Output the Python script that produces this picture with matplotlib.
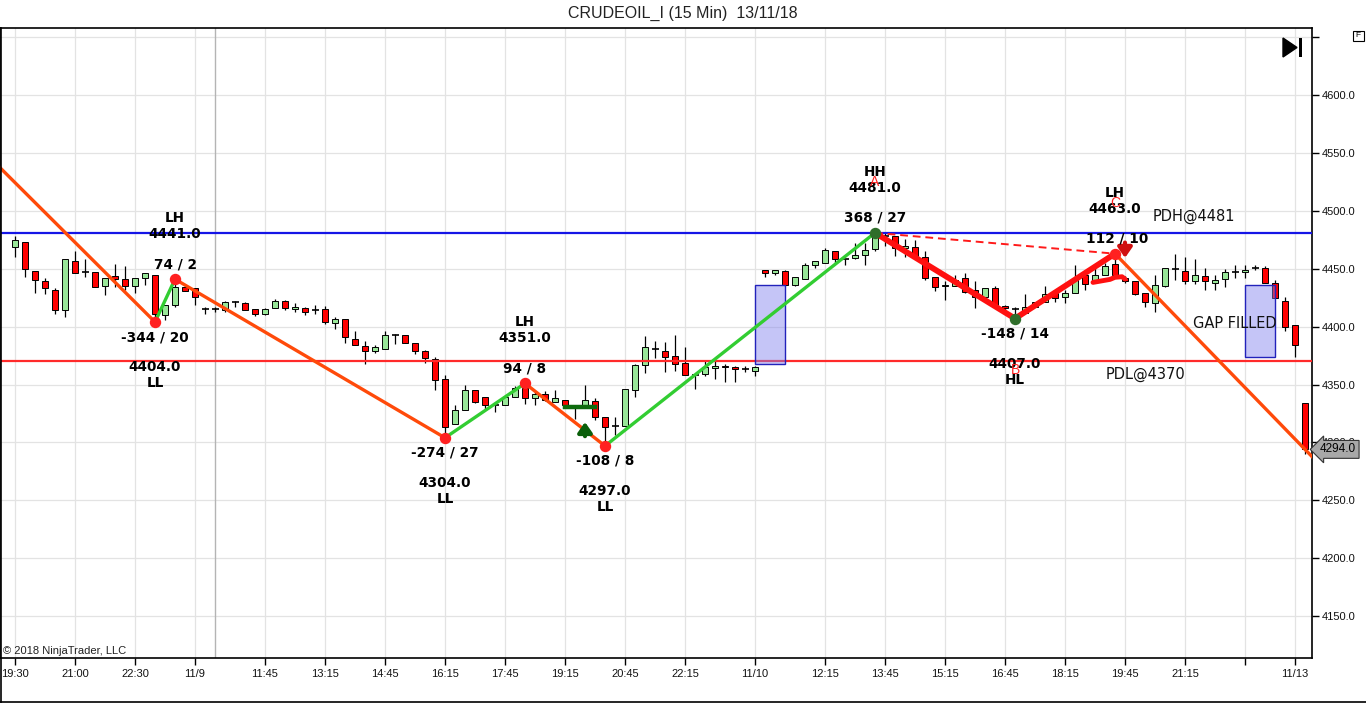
import matplotlib
matplotlib.use('Agg')
import matplotlib.pyplot as plt
import numpy as np
from matplotlib.patches import Rectangle, Polygon
import matplotlib.transforms as mtransforms

# ---------------- data ----------------
title = "CRUDEOIL_I (15 Min)  13/11/18"

opens = [4469, 4473, 4448, 4439, 4432, 4414, 4457, 4447, 4447, 4435,
         4444, 4441, 4435, 4442, 4445, 4410, 4419, 4434, 4433, 4415,
         4415, 4414, 4421, 4420, 4415, 4411, 4416, 4422, 4415, 4416,
         4414, 4415, 4403, 4407, 4389, 4383, 4379, 4381, 4393, 4393,
         4386, 4379, 4372, 4355, 4316, 4328, 4345, 4339, 4332, 4332,
         4339, 4347, 4338, 4342, 4335, 4337, 4331, 4330, 4336, 4322,
         4314, 4314, 4345, 4367, 4381, 4379, 4375, 4369, 4358, 4359,
         4364, 4366, 4365, 4363, 4362, 4449, 4446, 4448, 4436, 4441,
         4453, 4455, 4465, 4458, 4459, 4462, 4467, 4478, 4478, 4468,
         4469, 4460, 4443, 4435, 4435, 4442, 4432, 4426, 4433, 4418,
         4415, 4412, 4417, 4421, 4429, 4426, 4429, 4445, 4439, 4445,
         4454, 4442, 4439, 4429, 4420, 4435, 4450, 4448, 4439, 4444,
         4438, 4441, 4447, 4447, 4451, 4451, 4438, 4422, 4401, 4334]
highs = [4478, 4473, 4448, 4442, 4433, 4458, 4465, 4458, 4447, 4442,
         4454, 4452, 4442, 4446, 4445, 4419, 4441, 4437, 4433, 4417,
         4417, 4422, 4422, 4421, 4415, 4416, 4424, 4423, 4420, 4417,
         4419, 4418, 4408, 4407, 4396, 4388, 4384, 4396, 4394, 4393,
         4386, 4380, 4374, 4358, 4332, 4350, 4345, 4339, 4332, 4339,
         4349, 4351, 4344, 4344, 4345, 4337, 4331, 4350, 4338, 4322,
         4322, 4346, 4368, 4392, 4388, 4387, 4393, 4382, 4358, 4370,
         4370, 4368, 4366, 4366, 4366, 4449, 4449, 4449, 4443, 4455,
         4457, 4468, 4465, 4458, 4472, 4472, 4481, 4481, 4478, 4476,
         4475, 4465, 4443, 4439, 4445, 4446, 4439, 4433, 4435, 4419,
         4417, 4428, 4421, 4435, 4430, 4432, 4453, 4445, 4452, 4455,
         4463, 4444, 4439, 4429, 4445, 4451, 4463, 4460, 4458, 4451,
         4445, 4450, 4453, 4453, 4453, 4452, 4440, 4426, 4401, 4334]
lows = [4460, 4443, 4429, 4428, 4411, 4408, 4446, 4443, 4434, 4427,
        4434, 4432, 4429, 4436, 4404, 4406, 4417, 4431, 4419, 4411,
        4413, 4413, 4417, 4414, 4409, 4410, 4416, 4414, 4413, 4410,
        4411, 4402, 4398, 4386, 4384, 4368, 4377, 4381, 4385, 4386,
        4376, 4369, 4345, 4304, 4316, 4328, 4334, 4329, 4326, 4332,
        4339, 4333, 4332, 4336, 4335, 4331, 4320, 4330, 4319, 4297,
        4306, 4314, 4339, 4360, 4373, 4361, 4362, 4358, 4346, 4357,
        4355, 4352, 4352, 4361, 4357, 4443, 4445, 4435, 4435, 4441,
        4451, 4455, 4454, 4453, 4458, 4453, 4465, 4470, 4461, 4460,
        4459, 4440, 4431, 4423, 4435, 4429, 4416, 4426, 4416, 4412,
        4407, 4412, 4417, 4421, 4421, 4420, 4429, 4432, 4438, 4445,
        4444, 4438, 4427, 4417, 4413, 4434, 4440, 4437, 4437, 4432,
        4432, 4434, 4442, 4442, 4449, 4438, 4425, 4396, 4374, 4290]
closes = [4475, 4450, 4440, 4433, 4414, 4458, 4446, 4447, 4434, 4442,
          4441, 4435, 4442, 4446, 4411, 4419, 4434, 4431, 4426, 4415,
          4415, 4421, 4421, 4414, 4411, 4415, 4422, 4416, 4417, 4413,
          4414, 4404, 4407, 4391, 4384, 4379, 4382, 4393, 4393, 4386,
          4379, 4373, 4354, 4313, 4328, 4345, 4335, 4332, 4332, 4339,
          4347, 4338, 4342, 4337, 4338, 4332, 4331, 4337, 4322, 4313,
          4314, 4346, 4367, 4382, 4381, 4374, 4368, 4358, 4358, 4365,
          4366, 4365, 4363, 4363, 4365, 4446, 4449, 4436, 4443, 4453,
          4457, 4466, 4458, 4458, 4462, 4466, 4478, 4478, 4468, 4470,
          4459, 4442, 4434, 4436, 4440, 4430, 4426, 4433, 4417, 4416,
          4415, 4417, 4421, 4428, 4425, 4429, 4441, 4437, 4445, 4452,
          4445, 4439, 4428, 4421, 4436, 4451, 4450, 4439, 4445, 4439,
          4440, 4447, 4447, 4449, 4451, 4438, 4425, 4400, 4384, 4294]

tick_idx = [0, 6, 12, 18, 25, 31, 37, 43, 49, 55, 61, 67, 74, 81, 87, 93,
            99, 105, 111, 117, 123, 128]
tick_lbl = ['19:30', '21:00', '22:30', '11/9', '11:45', '13:15', '14:45',
            '16:15', '17:45', '19:15', '20:45', '22:15', '11/10', '12:15',
            '13:45', '15:15', '16:45', '18:15', '19:45', '21:15', '', '11/13']
session_break = [20]

y_ticks = [4150, 4200, 4250, 4300, 4350, 4400, 4450, 4500, 4550, 4600, 4650]

# zigzag swing points
swing_idx = [-6, 14, 16, 43, 51, 59, 86, 100, 110, 129]
swing_px = [4576, 4404, 4441, 4304, 4351, 4297, 4481, 4407, 4463, 4294]
swing_type = ['', 'LL', 'LH', 'LL', 'LH', 'LL', 'HH', 'HL', 'LH', '']
swing_move = ['', '-344 / 20', '74 / 2', '-274 / 27', '94 / 8', '-108 / 8',
              '368 / 27', '-148 / 14', '112 / 10', '']
swing_dot = ['', 'red', 'red', 'red', 'red', 'red', 'green', 'green', 'red', '']

# ABC pattern
abc_idx = [86, 100, 110]
abc_px = [4481, 4407, 4463]
abc_lbl = ['A', 'B', 'C']

# levels and gaps
pdh = 4481
pdl = 4370
gap_x0 = [74, 123]
gap_x1 = [77, 126]
gap_lo = [4368, 4374]
gap_hi = [4436, 4436]

# small drawings
green_hline_x = [55, 58]
green_hline_y = 4330.5
green_arrow_x = 57
green_arrow_y = [4303, 4320]
red_arrow_x = 111
red_arrow_y = [4475, 4457]
red_curve_x = [107.8, 109.5, 110.0, 110.7, 111.0]
red_curve_y = [4438.2, 4440.8, 4442.6, 4443.1, 4441.1]

last_price = 4294

# ---------------- figure ----------------
W, H = 1366, 703
fig = plt.figure(figsize=(W / 100, H / 100), dpi=100)
fig.patch.set_facecolor('white')
ax_l, ax_r, ax_t, ax_b = 0, 1312, 28, 657.7
ax = fig.add_axes([ax_l / W, 1 - ax_b / H, (ax_r - ax_l) / W, (ax_b - ax_t) / H])
ax.set_xlim(-1.5, 129.7)
ax.set_ylim(4114.1, 4657.9)

TF = 'Liberation Sans'
LF = 'DejaVu Sans'

# grid
for yv in y_ticks:
    ax.axhline(yv, color='#e3e3e3', lw=0.9, zorder=0)
for xv in tick_idx:
    ax.axvline(xv, color='#e3e3e3', lw=0.9, zorder=0)
for xv in session_break:
    ax.axvline(xv, color='#b4b4b4', lw=1.0, zorder=0)

# candles
x = np.arange(len(opens))
o = np.array(opens, float)
h = np.array(highs, float)
l = np.array(lows, float)
c = np.array(closes, float)
ax.vlines(x, l, h, color='black', lw=0.9, zorder=2)
up = c > o
dn = c < o
dj = c == o
ax.bar(x[up], (c - o)[up], bottom=o[up], width=0.62, color='#98e698',
       edgecolor='black', linewidth=0.7, zorder=3)
ax.bar(x[dn], (o - c)[dn], bottom=c[dn], width=0.62, color='#ff0000',
       edgecolor='black', linewidth=0.7, zorder=3)
ax.hlines(c[dj], x[dj] - 0.35, x[dj] + 0.35, color='black', lw=1.2, zorder=3)

# levels
ax.axhline(pdh, color='#1515e6', lw=1.6, zorder=4)
ax.axhline(pdl, color='#ff2a2a', lw=1.6, zorder=4)

# gap boxes
for x0, x1, lo, hi in zip(gap_x0, gap_x1, gap_lo, gap_hi):
    ax.add_patch(Rectangle((x0, lo), x1 - x0, hi - lo, facecolor='#8080ee',
                           alpha=0.45, edgecolor='none', zorder=5))
    ax.add_patch(Rectangle((x0, lo), x1 - x0, hi - lo, facecolor='none',
                           edgecolor='#2222bb', lw=1.0, zorder=5))

# zigzag
xlim_r = ax.get_xlim()[1]
for k in range(len(swing_idx) - 1):
    xa, xb = swing_idx[k], swing_idx[k + 1]
    ya, yb = swing_px[k], swing_px[k + 1]
    if k == len(swing_idx) - 2:
        slope = (yb - ya) / (xb - xa)
        xb2 = xlim_r + 1
        yb = ya + slope * (xb2 - xa)
        xb = xb2
    col = '#32cd32' if yb > ya else '#ff4a0a'
    ax.plot([xa, xb], [ya, yb], color=col, lw=2.4, zorder=6,
            solid_capstyle='round')

# ABC overlay
ax.plot([abc_idx[0], abc_idx[2]], [abc_px[0], abc_px[2]], color='#ff1a1a',
        lw=1.4, ls=(0, (4, 2.5)), zorder=6)
ax.plot(abc_idx, abc_px, color='#ff1010', lw=4.2, zorder=7,
        solid_joinstyle='round', solid_capstyle='round')
ax.plot(red_curve_x, red_curve_y, color='#ff1010', lw=3.5, zorder=7,
        solid_capstyle='round')

# dots
for i, p, d in zip(swing_idx, swing_px, swing_dot):
    if d:
        ax.plot(i, p, 'o', ms=7.2, zorder=8,
                color='#ff2020' if d == 'red' else '#2f6e2a',
                markeredgecolor='#ff2020' if d == 'red' else '#2f6e2a')

# small drawings
ax.plot(green_hline_x, [green_hline_y, green_hline_y], color='#0e6b0e',
        lw=3.2, zorder=7)
ax.annotate('', xy=(green_arrow_x, green_arrow_y[1]),
            xytext=(green_arrow_x, green_arrow_y[0]),
            arrowprops=dict(arrowstyle='-|>,head_width=0.35,head_length=0.5',
                            color='#0a5f0a', lw=3, mutation_scale=12),
            zorder=8)
ax.annotate('', xy=(red_arrow_x, red_arrow_y[1]),
            xytext=(red_arrow_x, red_arrow_y[0]),
            arrowprops=dict(arrowstyle='-|>,head_width=0.35,head_length=0.5',
                            color='#d01010', lw=3, mutation_scale=12),
            zorder=8)

# swing labels
for i, p, t, mv in zip(swing_idx, swing_px, swing_type, swing_move):
    if not t:
        continue
    s = 1 if t.endswith('H') else -1
    kw = dict(textcoords='offset pixels', ha='center', va='center',
              fontsize=9.8, fontweight='bold', family=LF, color='black',
              zorder=9)
    ax.annotate(t, xy=(i, p), xytext=(0, 61 * s), **kw)
    ax.annotate(f'{p:.1f}', xy=(i, p), xytext=(0, 45 * s), **kw)
    ax.annotate(mv, xy=(i, p), xytext=(2 if i == 110 else 0, 15 * s), **kw)

for i, p, t in zip(abc_idx, abc_px, abc_lbl):
    s = -1 if t == 'B' else 1
    ax.annotate(t, xy=(i, p), xytext=(0, 51 * s), textcoords='offset pixels',
                ha='center', va='center', fontsize=10, family=TF,
                color='#ff2020', zorder=10)

ax.annotate(f'PDH@{pdh}', xy=(117.9, pdh), xytext=(0, 16),
            textcoords='offset pixels', ha='center', va='center',
            fontsize=10.5, family=LF, color='#111111', zorder=9)
ax.annotate(f'PDL@{pdl}', xy=(113.05, pdl), xytext=(0, -13),
            textcoords='offset pixels', ha='center', va='center',
            fontsize=10.5, family=LF, color='#111111', zorder=9)
ax.text(122.0, 4403, 'GAP FILLED', ha='center', va='center',
        fontsize=10.5, family=LF, color='#111111', zorder=9)

ax.text(3 / (ax_r - ax_l), 6.5 / (ax_b - ax_t), '© 2018 NinjaTrader, LLC',
        transform=ax.transAxes, ha='left', va='center', fontsize=8,
        family=TF, color='#222222', zorder=9)

# axes styling
for sp in ax.spines.values():
    sp.set_color('black')
    sp.set_linewidth(1.2)
ax.yaxis.tick_right()
ax.set_yticks(y_ticks)
ax.set_yticklabels([f'{v:.1f}' if v <= 4600 else '' for v in y_ticks],
                   family=TF, fontsize=8)
ax.set_xticks(tick_idx)
ax.set_xticklabels(tick_lbl, family=TF, fontsize=8)
ax.tick_params(axis='both', direction='out', length=5, width=1,
               color='black', labelcolor='#111111', pad=3)
ax.tick_params(axis='y', pad=2)

# last price tag
trans = mtransforms.blended_transform_factory(ax.transAxes, ax.transData)
ax.annotate(f'{last_price:.1f}', xy=(1.0, last_price), xycoords=trans,
            xytext=(8, 0), textcoords='offset pixels', ha='left', va='center',
            fontsize=8.5, family=TF, color='black', annotation_clip=False,
            bbox=dict(boxstyle='larrow,pad=0.25', fc='#a8a8a8', ec='#333333',
                      lw=0.8), zorder=20)

# title
fig.text(0.5, 1 - 13 / H, title, ha='center', va='center', fontsize=11.5,
         family=TF, color='#222222')

# frame decorations
fig.add_artist(plt.Line2D([0.5 / W, 0.5 / W], [1 - 28 / H, 1 - 702 / H],
                          color='black', lw=1.2, transform=fig.transFigure))
fig.add_artist(plt.Line2D([0, 1], [1 - 701.5 / H, 1 - 701.5 / H],
                          color='black', lw=1.2, transform=fig.transFigure))
fig.add_artist(Polygon([[1283 / W, 1 - 38 / H], [1283 / W, 1 - 57 / H],
                        [1297 / W, 1 - 47.5 / H]], closed=True,
                       facecolor='black', edgecolor='black',
                       transform=fig.transFigure))
fig.add_artist(Rectangle((1298.5 / W, 1 - 57 / H), 3.5 / W, 19 / H,
                         facecolor='black', edgecolor='none',
                         transform=fig.transFigure))
fig.add_artist(Rectangle((1352.5 / W, 1 - 40.5 / H), 11 / W, 10 / H,
                         facecolor='white', edgecolor='black', lw=0.8,
                         transform=fig.transFigure))
fig.text(1358 / W, 1 - 35.5 / H, 'F', ha='center', va='center', fontsize=6,
         family=TF, color='black')

fig.savefig('out.png', dpi=100)
